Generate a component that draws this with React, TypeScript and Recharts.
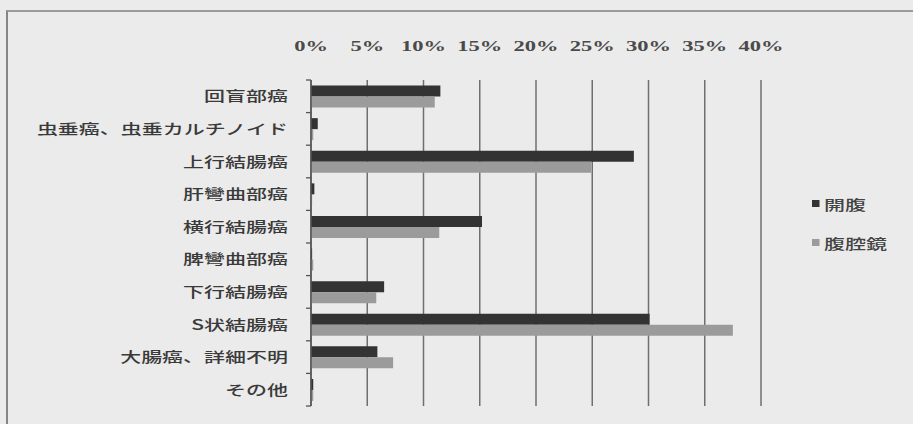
import React from "react";
import {
  BarChart,
  Bar,
  XAxis,
  YAxis,
  CartesianGrid,
  Legend,
} from "recharts";

// 部位別（結腸）: 開腹 vs 腹腔鏡, 割合(%)
const categories = [
  "回盲部癌",
  "虫垂癌、虫垂カルチノイド",
  "上行結腸癌",
  "肝彎曲部癌",
  "横行結腸癌",
  "脾彎曲部癌",
  "下行結腸癌",
  "S状結腸癌",
  "大腸癌、詳細不明",
  "その他",
];
const openValues = [11.5, 0.6, 28.7, 0.3, 15.2, 0.1, 6.5, 30.1, 5.9, 0.2];
const lapValues = [11.0, 0.2, 24.9, 0.1, 11.4, 0.2, 5.8, 37.5, 7.3, 0.2];
const seriesNames = ["開腹", "腹腔鏡"];
const seriesColors = ["#333333", "#9b9b9b"];
const xTicks = [0, 5, 10, 15, 20, 25, 30, 35, 40];

const data = categories.map((name, i) => ({
  name,
  open: openValues[i],
  lap: lapValues[i],
}));

const W = 913;
const H = 424;
const margin = { top: 50, right: 152, bottom: 18, left: 0 };
const xAxisH = 30;
const bandHalf = (H - margin.top - margin.bottom - xAxisH) / categories.length / 2;

const jpFont = "'Noto Sans CJK JP', 'Noto Sans', sans-serif";
const stretch = 1.5; // the scan is wider than tall
const yTickMargin = 23;

const XTick = ({ x, y, payload }: any) => (
  <text
    transform={`translate(${x},${y}) scale(${stretch},1)`}
    textAnchor="middle"
    fill="#4a4a4a"
    fontSize={15}
    fontWeight={600}
    fontFamily="'Liberation Serif', serif"
  >
    {`${payload.value}%`}
  </text>
);

// label centred in the band, tick marks on the band edges (like Excel)
const YTick = ({ x, y, payload, index }: any) => {
  const ax = x + yTickMargin;
  return (
    <g>
      <text
        transform={`translate(${x},${y + 5}) scale(${stretch},1)`}
        textAnchor="end"
        fill="#3a3a3a"
        fontSize={14}
        fontWeight={500}
        fontFamily={jpFont}
      >
        {payload.value}
      </text>
      {index === 0 && (
        <line x1={ax - 5} x2={ax} y1={y - bandHalf} y2={y - bandHalf} stroke="#555" strokeWidth={1.3} />
      )}
      <line x1={ax - 5} x2={ax} y1={y + bandHalf} y2={y + bandHalf} stroke="#555" strokeWidth={1.3} />
    </g>
  );
};

const LegendBox = () => (
  <div style={{ fontFamily: jpFont }}>
    {seriesNames.map((n, i) => (
      <div
        key={n}
        style={{
          display: "flex",
          alignItems: "center",
          height: 39,
          color: "#444",
          fontSize: 14,
          fontWeight: 500,
          transform: `scaleX(${stretch})`,
          transformOrigin: "left center",
        }}
      >
        <span
          style={{
            width: 5,
            height: 7,
            background: seriesColors[i],
            marginRight: 3,
            display: "inline-block",
          }}
        />
        {n}
      </div>
    ))}
  </div>
);

export default function App() {
  return (
    <div
      style={{
        position: "absolute",
        left: 0,
        top: 0,
        width: W,
        height: H,
        background: "#ebebeb",
        overflow: "hidden",
      }}
    >
      <div
        style={{
          position: "absolute",
          left: 6,
          top: 10,
          width: W,
          height: H,
          boxSizing: "border-box",
          borderLeft: "2px solid #858585",
          borderTop: "2px solid #9a9a9a",
        }}
      />
      <BarChart
        width={W}
        height={H}
        layout="vertical"
        data={data}
        margin={margin}
        barCategoryGap="17%"
        barGap={0}
        style={{ position: "absolute", left: 0, top: 0 }}
      >
        <CartesianGrid horizontal={false} stroke="#6f6f6f" strokeWidth={1.5} />
        <XAxis
          type="number"
          orientation="top"
          domain={[0, 40]}
          ticks={xTicks}
          height={xAxisH}
          axisLine={false}
          tickLine={false}
          tickSize={0}
          tickMargin={29}
          tick={<XTick />}
          interval={0}
        />
        <YAxis
          type="category"
          dataKey="name"
          width={311}
          axisLine={{ stroke: "#555", strokeWidth: 1.5 }}
          tickLine={false}
          tickSize={0}
          tickMargin={yTickMargin}
          tick={<YTick />}
          interval={0}
        />
        <Legend
          layout="horizontal"
          align="center"
          verticalAlign="middle"
          wrapperStyle={{ left: 812, top: 184, width: 100 }}
          content={<LegendBox />}
        />
        <Bar dataKey="open" name={seriesNames[0]} fill={seriesColors[0]} isAnimationActive={false} />
        <Bar dataKey="lap" name={seriesNames[1]} fill={seriesColors[1]} isAnimationActive={false} />
      </BarChart>
    </div>
  );
}
